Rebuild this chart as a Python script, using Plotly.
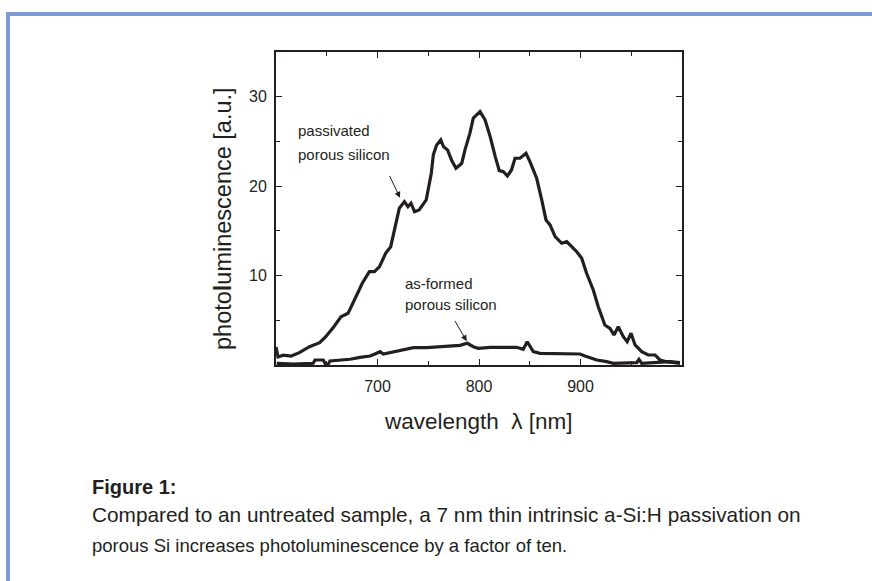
import plotly.graph_objects as go

# ---- data (wavelength in nm, photoluminescence in a.u.) ----
pass_wl = [600, 602, 607, 615, 623, 633, 643, 649, 657, 664, 671, 679, 685, 692, 697,
           702, 708, 713, 717, 721.5, 726.5, 730, 733, 736.5, 741, 748, 753, 755, 758.3,
           762.3, 765, 769, 773, 777.3, 783, 786.2, 791, 794.4, 797.7, 801, 806, 811,
           816, 820, 824, 828, 832, 835.5, 840.4, 846.3, 850.2, 856.8, 861.8, 866, 870,
           875, 881.5, 886.4, 891.3, 896.3, 901.2, 906, 912.6, 917.5, 924, 929, 933,
           937.2, 942.2, 946, 949.8, 953.7, 960.3, 966.8, 973.4, 978.3, 985, 991.4, 998]
pass_pl = [2.0, 0.9, 1.1, 1.0, 1.38, 2.05, 2.49, 3.17, 4.28, 5.4, 5.78, 7.64, 9.14, 10.44, 10.44,
           11.0, 12.49, 13.23, 15.29, 17.53, 18.27, 17.7, 18.09, 17.15, 17.34, 18.46, 21.44, 23.5, 24.6,
           25.17, 24.42, 24.05, 22.9, 22.0, 22.56, 24.05, 25.9, 27.6, 27.96, 28.33, 27.4, 25.54,
           23.3, 21.73, 21.62, 21.14, 21.81, 23.12, 23.12, 23.68, 22.74, 20.88, 18.46, 16.22, 15.66,
           14.35, 13.61, 13.79, 13.23, 12.67, 11.94, 10.26, 8.39, 6.52, 4.47, 4.1, 3.36,
           4.28, 3.17, 2.61, 3.55, 2.24, 1.49, 1.12, 1.12, 0.56, 0.37, 0.26, 0.19]

asf_wl = [600.7, 617, 636.7, 638.4, 646.6, 650, 653.2, 663, 673, 682.8, 692.6, 697.5, 702.5,
          705.7, 715.6, 725.4, 735.3, 748.5, 768.2, 781.3, 788.5, 794.4, 799.3, 810.8, 837.1,
          843.6, 847.5, 853.5, 860.1, 879.8, 899.5, 904.4, 916, 925.8, 932.3, 955.4, 957.6,
          960.3, 975.1, 988.2, 998]
asf_pl = [0.19, 0.11, 0.19, 0.56, 0.56, -0.19, 0.45, 0.56, 0.64, 0.86, 1.0, 1.23, 1.49,
          1.23, 1.49, 1.68, 1.94, 1.94, 2.05, 2.2, 2.43, 2.05, 1.87, 1.98, 1.98,
          1.76, 2.6, 1.49, 1.31, 1.23, 1.23, 1.0, 0.56, 0.37, 0.19, 0.26, 0.64,
          0.19, 0.26, 0.37, 0.26]

x_ticks = [700, 800, 900]
y_ticks = [10, 20, 30]

FONT = "Liberation Sans, Arial, Helvetica, sans-serif"
INK = "#231f20"
BLUE = "#7f9ad2"

# plot-area geometry in pixels (used only for paper-coordinate conversion of decorations)
W, H = 872, 581
L, R, T, B = 276, 682, 52, 365


def px(x):
    return (x - L) / (R - L)


def py(y):
    return (B - y) / (B - T)


fig = go.Figure()
fig.add_trace(go.Scatter(x=pass_wl, y=pass_pl, mode="lines",
                         line=dict(color=INK, width=3.2), showlegend=False))
fig.add_trace(go.Scatter(x=asf_wl, y=asf_pl, mode="lines",
                         line=dict(color=INK, width=3.2), showlegend=False))

axis_common = dict(
    showline=True, linecolor=INK, linewidth=2, mirror="allticks",
    ticks="inside", ticklen=6, tickwidth=1.2, tickcolor=INK,
    showgrid=False, zeroline=False,
    tickfont=dict(family=FONT, size=16, color=INK),
)
fig.update_xaxes(range=[600, 1000], tickvals=x_ticks,
                 minor=dict(dtick=50, tick0=600, ticks="inside", ticklen=4, tickwidth=1.2,
                            tickcolor=INK, showgrid=False),
                 ticklabelstandoff=6, **axis_common)
fig.update_yaxes(range=[0, 35], tickvals=y_ticks,
                 minor=dict(dtick=5, tick0=0, ticks="inside", ticklen=4, tickwidth=1.2,
                            tickcolor=INK, showgrid=False),
                 ticklabelstandoff=4, **axis_common)

ann = []
# curve labels
lab_font = dict(family=FONT, size=15, color=INK)
ann += [
    dict(x=619.5, y=26.2, xref="x", yref="y", text="passivated", showarrow=False,
         xanchor="left", yanchor="middle", font=lab_font),
    dict(x=619.5, y=23.5, xref="x", yref="y", text="porous silicon", showarrow=False,
         xanchor="left", yanchor="middle", font=lab_font),
    dict(x=725.5, y=9.1, xref="x", yref="y", text="as-formed", showarrow=False,
         xanchor="left", yanchor="middle", font=lab_font),
    dict(x=725.5, y=6.8, xref="x", yref="y", text="porous silicon", showarrow=False,
         xanchor="left", yanchor="middle", font=lab_font),
    # arrows
    dict(x=722.2, y=18.7, ax=711.3, ay=21.3, xref="x", yref="y", axref="x", ayref="y",
         text="", showarrow=True, arrowhead=2, arrowsize=1.2, arrowwidth=1, arrowcolor=INK),
    dict(x=787.9, y=2.65, ax=775.4, ay=5.1, xref="x", yref="y", axref="x", ayref="y",
         text="", showarrow=True, arrowhead=2, arrowsize=1.2, arrowwidth=1, arrowcolor=INK),
]
# axis titles
ann += [
    dict(x=px(223), y=py(219), xref="paper", yref="paper", textangle=-90,
         xanchor="center", yanchor="middle",
         text="photo<b>l</b>uminescence [a.u.]", showarrow=False,
         font=dict(family=FONT, size=23.5, color=INK)),
    dict(x=px(478), y=py(421), xref="paper", yref="paper",
         xanchor="center", yanchor="middle",
         text="wavelength  \u03bb [nm]", showarrow=False,
         font=dict(family=FONT, size=22.5, color=INK)),
]
# caption
ann += [
    dict(x=px(90), y=py(487), xref="paper", yref="paper", xanchor="left", yanchor="middle",
         text="<b>Figure 1:</b>", showarrow=False,
         font=dict(family=FONT, size=20, color=INK)),
    dict(x=px(90), y=py(514), xref="paper", yref="paper", xanchor="left", yanchor="middle",
         text="Compared to an untreated sample, a 7 nm thin intrinsic a-Si:H passivation on",
         showarrow=False, font=dict(family=FONT, size=20.8, color=INK)),
    dict(x=px(90), y=py(545), xref="paper", yref="paper", xanchor="left", yanchor="middle",
         text="porous Si increases photoluminescence by a factor of ten.",
         showarrow=False, font=dict(family=FONT, size=18.5, color=INK)),
]

shapes = [
    dict(type="rect", xref="paper", yref="paper", x0=px(6), x1=px(W + 5), y0=py(12), y1=py(16),
         fillcolor=BLUE, line=dict(width=0), layer="below"),
    dict(type="rect", xref="paper", yref="paper", x0=px(6), x1=px(10), y0=py(12), y1=py(H + 5),
         fillcolor=BLUE, line=dict(width=0), layer="below"),
]

fig.update_layout(
    width=W, height=H,
    margin=dict(l=L, r=W - R, t=T, b=H - B, pad=0),
    paper_bgcolor="white", plot_bgcolor="white",
    annotations=ann, shapes=shapes, showlegend=False,
    font=dict(family=FONT, color=INK),
)

fig.write_html("out.html", config={"displayModeBar": False},
               post_script="document.body.style.margin='0';document.body.style.overflow='hidden';")
